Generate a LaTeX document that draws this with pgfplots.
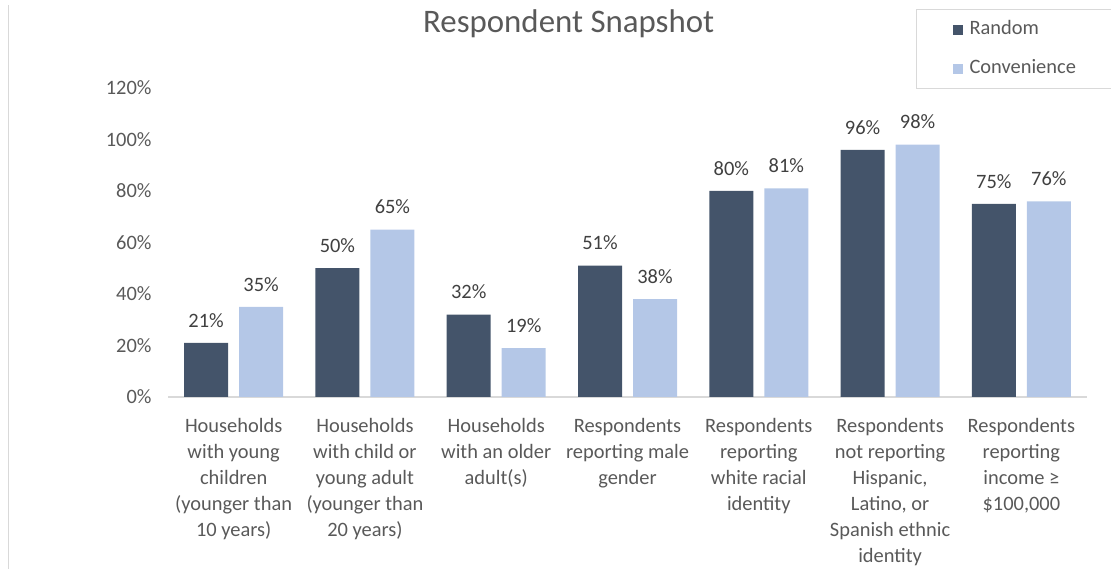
\documentclass[border=0pt]{standalone}
\usepackage{fontspec}
\setmainfont{Carlito}
\usepackage{pgfplots}
\pgfplotsset{compat=1.18}
\definecolor{randc}{HTML}{44546A}
\definecolor{convc}{HTML}{B4C7E7}
\definecolor{txt}{HTML}{595959}
\definecolor{lbl}{HTML}{404040}
\definecolor{axln}{HTML}{D9D9D9}
\newcommand{\lblfont}{\fontsize{20.5}{26}\selectfont}

\begin{document}
\begin{tikzpicture}[x=1bp,y=1bp]
\path[use as bounding box] (0,0) rectangle (1111,569);
\draw[axln, line width=1.2bp] (8.5,0) -- (8.5,564);
\begin{axis}[
    at={(168bp,172bp)}, anchor=south west,
    scale only axis, width=919bp, height=309bp,
    ymin=0, ymax=120, xmin=-0.5, xmax=6.5,
    ybar=11bp, bar width=44bp,
    axis lines*=left,
    x axis line style={axln, line width=1.2bp},
    y axis line style={draw=none},
    major tick length=0pt,
    ytick={0,20,...,120},
    yticklabel={\pgfmathprintnumber{\tick}\%},
    /pgf/number format/assume math mode=true,
    yticklabel style={font=\lblfont, text=txt, xshift=-13bp},
    xtick={0,...,6},
    xticklabels={
        {Households\\with young\\children\\(younger than\\10 years)},
        {Households\\with child or\\young adult\\(younger than\\20 years)},
        {Households\\with an older\\adult(s)},
        {Respondents\\reporting male\\gender},
        {Respondents\\reporting\\white racial\\identity},
        {Respondents\\not reporting\\Hispanic,\\Latino, or\\Spanish ethnic\\identity},
        {Respondents\\reporting\\income ≥\\\$100,000}},
    xticklabel style={font=\lblfont, text=txt, align=center, anchor=north, yshift=-18bp},
    title={Respondent Snapshot},
    title style={font=\fontsize{33}{38}\selectfont, text=txt, at={(axis description cs:0.436,1.19)}, anchor=center},
    nodes near coords={\pgfmathprintnumber{\pgfplotspointmeta}\%},
    every node near coord/.append style={font=\lblfont, text=lbl, anchor=south, yshift=12bp},
    legend image code/.code={\fill[#1, draw=none] (0bp,-5bp) rectangle (10bp,5bp);},
    legend cell align=left,
    legend style={at={(axis description cs:0.8139,1.2557)}, anchor=north west,
        draw=axln, line width=1.2bp, inner xsep=36bp, inner ysep=11bp, row sep=21bp,
        font=\lblfont, text=txt,
        nodes={inner sep=0pt, inner xsep=7bp, text width=170bp, text height=14bp, text depth=4bp}},
]
\addplot[fill=randc, draw=none] coordinates {
    (0,21) (1,50) (2,32) (3,51) (4,80) (5,96) (6,75)};
\addlegendentry{Random}
\addplot[fill=convc, draw=none] coordinates {
    (0,35) (1,65) (2,19) (3,38) (4,81) (5,98) (6,76)};
\addlegendentry{Convenience}
\end{axis}
\end{tikzpicture}
\end{document}
